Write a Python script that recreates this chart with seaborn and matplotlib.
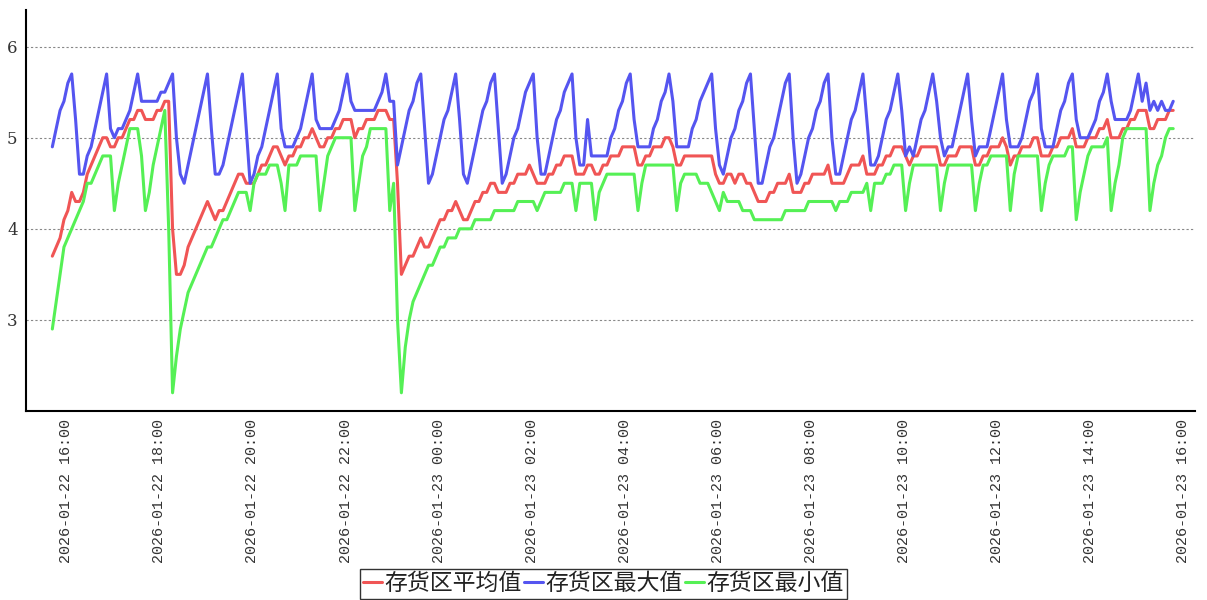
import numpy as np
import pandas as pd
import matplotlib
matplotlib.use('Agg')
import matplotlib.pyplot as plt
import matplotlib.dates as mdates
import seaborn as sns

# 数据: 每 5 分钟一个点
start_time = '2026-01-22 15:42'
step = '5min'

avg_values = [
    3.7, 3.8, 3.9, 4.1, 4.2, 4.4, 4.3, 4.3, 4.4, 4.6,
    4.7, 4.8, 4.9, 5.0, 5.0, 4.9, 4.9, 5.0, 5.0, 5.1,
    5.2, 5.2, 5.3, 5.3, 5.2, 5.2, 5.2, 5.3, 5.3, 5.4,
    5.4, 4.0, 3.5, 3.5, 3.6, 3.8, 3.9, 4.0, 4.1, 4.2,
    4.3, 4.2, 4.1, 4.2, 4.2, 4.3, 4.4, 4.5, 4.6, 4.6,
    4.5, 4.5, 4.5, 4.6, 4.7, 4.7, 4.8, 4.9, 4.9, 4.8,
    4.7, 4.8, 4.8, 4.9, 4.9, 5.0, 5.0, 5.1, 5.0, 4.9,
    4.9, 5.0, 5.0, 5.1, 5.1, 5.2, 5.2, 5.2, 5.0, 5.1,
    5.1, 5.2, 5.2, 5.2, 5.3, 5.3, 5.3, 5.2, 5.2, 4.5,
    3.5, 3.6, 3.7, 3.7, 3.8, 3.9, 3.8, 3.8, 3.9, 4.0,
    4.1, 4.1, 4.2, 4.2, 4.3, 4.2, 4.1, 4.1, 4.2, 4.3,
    4.3, 4.4, 4.4, 4.5, 4.5, 4.4, 4.4, 4.4, 4.5, 4.5,
    4.6, 4.6, 4.6, 4.7, 4.6, 4.5, 4.5, 4.5, 4.6, 4.6,
    4.7, 4.7, 4.8, 4.8, 4.8, 4.6, 4.6, 4.6, 4.7, 4.7,
    4.6, 4.6, 4.7, 4.7, 4.8, 4.8, 4.8, 4.9, 4.9, 4.9,
    4.9, 4.7, 4.7, 4.8, 4.8, 4.9, 4.9, 4.9, 5.0, 5.0,
    4.9, 4.7, 4.7, 4.8, 4.8, 4.8, 4.8, 4.8, 4.8, 4.8,
    4.8, 4.6, 4.5, 4.5, 4.6, 4.6, 4.5, 4.6, 4.6, 4.5,
    4.5, 4.4, 4.3, 4.3, 4.3, 4.4, 4.4, 4.5, 4.5, 4.5,
    4.6, 4.4, 4.4, 4.4, 4.5, 4.5, 4.6, 4.6, 4.6, 4.6,
    4.7, 4.5, 4.5, 4.5, 4.5, 4.6, 4.7, 4.7, 4.7, 4.8,
    4.6, 4.6, 4.6, 4.7, 4.7, 4.8, 4.8, 4.9, 4.9, 4.9,
    4.8, 4.7, 4.8, 4.8, 4.9, 4.9, 4.9, 4.9, 4.9, 4.7,
    4.7, 4.8, 4.8, 4.8, 4.9, 4.9, 4.9, 4.9, 4.7, 4.7,
    4.8, 4.8, 4.9, 4.9, 4.9, 5.0, 4.9, 4.7, 4.8, 4.8,
    4.9, 4.9, 4.9, 5.0, 5.0, 4.8, 4.8, 4.8, 4.9, 4.9,
    5.0, 5.0, 5.0, 5.1, 4.9, 4.9, 4.9, 5.0, 5.0, 5.0,
    5.1, 5.1, 5.2, 5.0, 5.0, 5.0, 5.1, 5.1, 5.2, 5.2,
    5.3, 5.3, 5.3, 5.1, 5.1, 5.2, 5.2, 5.2, 5.3, 5.3,
]

max_values = [
    4.9, 5.1, 5.3, 5.4, 5.6, 5.7, 5.2, 4.6, 4.6, 4.8,
    4.9, 5.1, 5.3, 5.5, 5.7, 5.1, 5.0, 5.1, 5.1, 5.2,
    5.3, 5.5, 5.7, 5.4, 5.4, 5.4, 5.4, 5.4, 5.5, 5.5,
    5.6, 5.7, 5.0, 4.6, 4.5, 4.7, 4.9, 5.1, 5.3, 5.5,
    5.7, 5.1, 4.6, 4.6, 4.7, 4.9, 5.1, 5.3, 5.5, 5.7,
    5.1, 4.5, 4.6, 4.8, 4.9, 5.1, 5.3, 5.5, 5.7, 5.1,
    4.9, 4.9, 4.9, 5.0, 5.1, 5.3, 5.5, 5.7, 5.2, 5.1,
    5.1, 5.1, 5.1, 5.2, 5.3, 5.5, 5.7, 5.4, 5.3, 5.3,
    5.3, 5.3, 5.3, 5.3, 5.4, 5.5, 5.7, 5.4, 5.4, 4.7,
    4.9, 5.1, 5.3, 5.4, 5.6, 5.7, 5.1, 4.5, 4.6, 4.8,
    5.0, 5.2, 5.3, 5.5, 5.7, 5.2, 4.6, 4.5, 4.7, 4.9,
    5.1, 5.3, 5.4, 5.6, 5.7, 5.1, 4.5, 4.6, 4.8, 5.0,
    5.1, 5.3, 5.5, 5.6, 5.7, 5.0, 4.6, 4.6, 4.8, 5.0,
    5.2, 5.3, 5.5, 5.6, 5.7, 5.0, 4.7, 4.7, 5.2, 4.8,
    4.8, 4.8, 4.8, 4.8, 5.0, 5.1, 5.3, 5.4, 5.6, 5.7,
    5.2, 4.9, 4.9, 4.9, 4.9, 5.1, 5.2, 5.4, 5.5, 5.7,
    5.4, 4.9, 4.9, 4.9, 4.9, 5.1, 5.2, 5.4, 5.5, 5.6,
    5.7, 5.1, 4.7, 4.6, 4.8, 5.0, 5.1, 5.3, 5.4, 5.6,
    5.7, 5.1, 4.5, 4.5, 4.7, 4.9, 5.0, 5.2, 5.4, 5.6,
    5.7, 5.0, 4.5, 4.6, 4.8, 5.0, 5.1, 5.3, 5.4, 5.6,
    5.7, 5.0, 4.6, 4.6, 4.8, 5.0, 5.2, 5.3, 5.5, 5.7,
    5.2, 4.7, 4.7, 4.8, 5.0, 5.2, 5.3, 5.5, 5.7, 5.3,
    4.8, 4.9, 4.8, 5.0, 5.2, 5.3, 5.5, 5.7, 5.4, 5.0,
    4.8, 4.9, 4.9, 5.1, 5.3, 5.5, 5.7, 5.2, 4.8, 4.9,
    4.9, 4.9, 5.1, 5.3, 5.5, 5.7, 5.2, 4.9, 4.9, 4.9,
    5.0, 5.2, 5.4, 5.5, 5.7, 5.1, 4.9, 4.9, 4.9, 5.1,
    5.3, 5.4, 5.6, 5.7, 5.2, 5.0, 5.0, 5.0, 5.1, 5.2,
    5.4, 5.5, 5.7, 5.4, 5.2, 5.2, 5.2, 5.2, 5.3, 5.5,
    5.7, 5.4, 5.6, 5.3, 5.4, 5.3, 5.4, 5.3, 5.3, 5.4,
]

min_values = [
    2.9, 3.2, 3.5, 3.8, 3.9, 4.0, 4.1, 4.2, 4.3, 4.5,
    4.5, 4.6, 4.7, 4.8, 4.8, 4.8, 4.2, 4.5, 4.7, 4.9,
    5.1, 5.1, 5.1, 4.8, 4.2, 4.4, 4.7, 4.9, 5.1, 5.3,
    4.0, 2.2, 2.6, 2.9, 3.1, 3.3, 3.4, 3.5, 3.6, 3.7,
    3.8, 3.8, 3.9, 4.0, 4.1, 4.1, 4.2, 4.3, 4.4, 4.4,
    4.4, 4.2, 4.5, 4.6, 4.6, 4.6, 4.7, 4.7, 4.7, 4.5,
    4.2, 4.7, 4.7, 4.7, 4.8, 4.8, 4.8, 4.8, 4.8, 4.2,
    4.5, 4.8, 4.9, 5.0, 5.0, 5.0, 5.0, 5.0, 4.2, 4.5,
    4.8, 4.9, 5.1, 5.1, 5.1, 5.1, 5.1, 4.2, 4.5, 3.0,
    2.2, 2.7, 3.0, 3.2, 3.3, 3.4, 3.5, 3.6, 3.6, 3.7,
    3.8, 3.8, 3.9, 3.9, 3.9, 4.0, 4.0, 4.0, 4.0, 4.1,
    4.1, 4.1, 4.1, 4.1, 4.2, 4.2, 4.2, 4.2, 4.2, 4.2,
    4.3, 4.3, 4.3, 4.3, 4.3, 4.2, 4.3, 4.4, 4.4, 4.4,
    4.4, 4.4, 4.5, 4.5, 4.5, 4.2, 4.5, 4.5, 4.5, 4.5,
    4.1, 4.4, 4.5, 4.6, 4.6, 4.6, 4.6, 4.6, 4.6, 4.6,
    4.6, 4.2, 4.5, 4.7, 4.7, 4.7, 4.7, 4.7, 4.7, 4.7,
    4.7, 4.2, 4.5, 4.6, 4.6, 4.6, 4.6, 4.5, 4.5, 4.5,
    4.4, 4.3, 4.2, 4.4, 4.3, 4.3, 4.3, 4.3, 4.2, 4.2,
    4.2, 4.1, 4.1, 4.1, 4.1, 4.1, 4.1, 4.1, 4.1, 4.2,
    4.2, 4.2, 4.2, 4.2, 4.2, 4.3, 4.3, 4.3, 4.3, 4.3,
    4.3, 4.3, 4.2, 4.3, 4.3, 4.3, 4.4, 4.4, 4.4, 4.4,
    4.5, 4.2, 4.5, 4.5, 4.5, 4.6, 4.6, 4.7, 4.7, 4.7,
    4.2, 4.5, 4.7, 4.7, 4.7, 4.7, 4.7, 4.7, 4.7, 4.2,
    4.5, 4.7, 4.7, 4.7, 4.7, 4.7, 4.7, 4.7, 4.2, 4.5,
    4.7, 4.7, 4.8, 4.8, 4.8, 4.8, 4.8, 4.2, 4.6, 4.8,
    4.8, 4.8, 4.8, 4.8, 4.8, 4.2, 4.5, 4.7, 4.8, 4.8,
    4.8, 4.8, 4.9, 4.9, 4.1, 4.4, 4.6, 4.8, 4.9, 4.9,
    4.9, 4.9, 5.0, 4.2, 4.5, 4.7, 5.0, 5.1, 5.1, 5.1,
    5.1, 5.1, 5.1, 4.2, 4.5, 4.7, 4.8, 5.0, 5.1, 5.1,
]

series_names = ['存货区平均值', '存货区最大值', '存货区最小值']
series_colors = ['#f05555', '#5555f0', '#55f055']

times = pd.date_range(start_time, periods=len(avg_values), freq=step)
wide_df = pd.DataFrame({
    'time': times,
    series_names[0]: avg_values,
    series_names[1]: max_values,
    series_names[2]: min_values,
})
long_df = wide_df.melt(id_vars='time', var_name='series', value_name='value')

sns.set_style('white')
plt.rcParams['font.family'] = ['Noto Sans CJK SC', 'DejaVu Sans']

fig = plt.figure(figsize=(12.07, 6.0), dpi=100)
ax = fig.add_axes([0.0215, 0.315, 0.9685, 0.668])

sns.lineplot(data=long_df, x='time', y='value', hue='series',
             hue_order=series_names, palette=series_colors,
             linewidth=2.2, ax=ax, legend=False)

# 坐标轴范围
ax.set_ylim(2.0, 6.4)
ax.set_xlim(pd.Timestamp('2026-01-22 15:08'), pd.Timestamp('2026-01-23 16:15'))
ax.set_xlabel('')
ax.set_ylabel('')

# 刻度
ax.set_yticks([3, 4, 5, 6])
ax.xaxis.set_major_locator(mdates.HourLocator(byhour=range(0, 24, 2)))
ax.xaxis.set_major_formatter(mdates.DateFormatter('%Y-%m-%d %H:%M'))
ax.tick_params(axis='x', length=4, color='#999999', direction='out', pad=2)
ax.tick_params(axis='y', length=0, pad=6)
for lbl in ax.get_xticklabels():
    lbl.set_rotation(90)
    lbl.set_family('Liberation Mono')
    lbl.set_fontsize(10.8)
    lbl.set_color('#333333')
for lbl in ax.get_yticklabels():
    lbl.set_family('DejaVu Serif')
    lbl.set_fontsize(12)
    lbl.set_color('#333333')

# 网格和边框
ax.grid(axis='y', linestyle=(0, (2, 2)), color='#888888', linewidth=0.8)
ax.grid(axis='x', visible=False)
for side in ['top', 'right']:
    ax.spines[side].set_visible(False)
for side in ['left', 'bottom']:
    ax.spines[side].set_color('black')
    ax.spines[side].set_linewidth(1.5)

# 图例
handles = ax.get_lines()[:3]
leg = fig.legend(handles, series_names, loc='lower center',
                 bbox_to_anchor=(0.5, 0.002), ncol=3, frameon=True,
                 fancybox=False, edgecolor='black', fontsize=16.5,
                 handlelength=0.8, handletextpad=0.12, columnspacing=0.12,
                 borderpad=0.15, borderaxespad=0.0)
leg.get_frame().set_linewidth(1.0)
for txt in leg.get_texts():
    txt.set_color('#222222')

fig.savefig('out.png', dpi=100)
